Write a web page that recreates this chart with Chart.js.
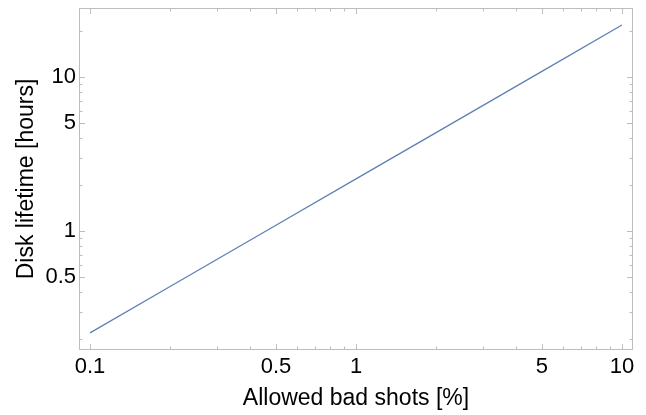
<!DOCTYPE html>
<html>
<head>
<meta charset="utf-8">
<script src="https://cdn.jsdelivr.net/npm/chart.js@4"></script>
<style>
html,body{margin:0;padding:0;background:#fff;}
#wrap{width:646px;height:415px;position:relative;}
</style>
</head>
<body>
<div id="wrap"><canvas id="c" width="646" height="415"></canvas></div>
<script>
const badShots = [0.1, 0.2, 0.5, 1, 2, 5, 10];
const lifetime = [0.218, 0.436, 1.09, 2.18, 4.36, 10.9, 21.8];
const xMajorTicks = [0.1, 0.5, 1, 5, 10];
const yMajorTicks = [0.5, 1, 5, 10];
const xMinorTicks = [0.2, 0.3, 0.4, 0.6, 0.7, 0.8, 0.9, 2, 3, 4, 6, 7, 8, 9];
const yMinorTicks = [0.2, 0.3, 0.4, 0.6, 0.7, 0.8, 0.9, 2, 3, 4, 6, 7, 8, 9, 20];
const xLimits = [0.0909, 11.0];
const yLimits = [0.1687, 28.1];

const frameColor = '#bdbdbd';
const FONT = "'Liberation Sans', Arial, sans-serif";

const framePlugin = {
  id: 'frame',
  afterDraw(chart) {
    const {ctx, chartArea: a, scales} = chart;
    const xs = scales.x, ys = scales.y;
    ctx.save();
    ctx.strokeStyle = frameColor;
    ctx.lineWidth = 1;
    ctx.strokeRect(a.left + 0.5, a.top + 0.5, a.right - a.left - 1, a.bottom - a.top - 1);
    const drawX = (v, len) => {
      const px = Math.round(xs.getPixelForValue(v)) + 0.5;
      if (px < a.left || px > a.right) return;
      ctx.beginPath();
      ctx.moveTo(px, a.bottom); ctx.lineTo(px, a.bottom - len);
      ctx.moveTo(px, a.top); ctx.lineTo(px, a.top + len);
      ctx.stroke();
    };
    const drawY = (v, len) => {
      const py = Math.round(ys.getPixelForValue(v)) + 0.5;
      if (py < a.top || py > a.bottom) return;
      ctx.beginPath();
      ctx.moveTo(a.left, py); ctx.lineTo(a.left + len, py);
      ctx.moveTo(a.right, py); ctx.lineTo(a.right - len, py);
      ctx.stroke();
    };
    xMajorTicks.forEach(v => drawX(v, 6));
    xMinorTicks.forEach(v => drawX(v, 3.5));
    yMajorTicks.forEach(v => drawY(v, 6));
    yMinorTicks.forEach(v => drawY(v, 3.5));
    ctx.restore();
  }
};

new Chart(document.getElementById('c'), {
  type: 'line',
  data: {
    datasets: [{
      data: badShots.map((x, i) => ({x, y: lifetime[i]})),
      borderColor: '#5E81B5',
      borderWidth: 1.3,
      pointRadius: 0,
      fill: false,
      tension: 0
    }]
  },
  options: {
    responsive: false,
    animation: false,
    devicePixelRatio: 1,
    layout: {padding: {top: 8, right: 13, left: 0, bottom: 0}},
    plugins: {legend: {display: false}, tooltip: {enabled: false}},
    scales: {
      x: {
        type: 'logarithmic',
        min: xLimits[0], max: xLimits[1],
        afterBuildTicks: s => { s.ticks = xMajorTicks.map(v => ({value: v})); },
        afterFit: s => { s.height = 65; s.paddingLeft = 0; s.paddingRight = 0; },
        grid: {display: false, drawTicks: false},
        border: {display: false},
        ticks: {
          color: '#000', padding: 4, maxRotation: 0, autoSkip: false,
          font: {family: FONT, size: 22},
          callback: v => String(v)
        },
        title: {
          display: true, text: 'Allowed bad shots [%]', color: '#000',
          font: {family: FONT, size: 23}, padding: {top: 0, bottom: 3}
        }
      },
      y: {
        type: 'logarithmic',
        min: yLimits[0], max: yLimits[1],
        afterBuildTicks: s => { s.ticks = yMajorTicks.map(v => ({value: v})); },
        afterFit: s => { s.width = 79; s.paddingTop = 0; s.paddingBottom = 0; },
        grid: {display: false, drawTicks: false},
        border: {display: false},
        ticks: {
          color: '#000', padding: 3, autoSkip: false,
          font: {family: FONT, size: 22},
          callback: v => String(v)
        },
        title: {
          display: true, text: 'Disk lifetime [hours]', color: '#000',
          font: {family: FONT, size: 23}, padding: {top: 13, bottom: 0}
        }
      }
    }
  },
  plugins: [framePlugin]
});
</script>
</body>
</html>
